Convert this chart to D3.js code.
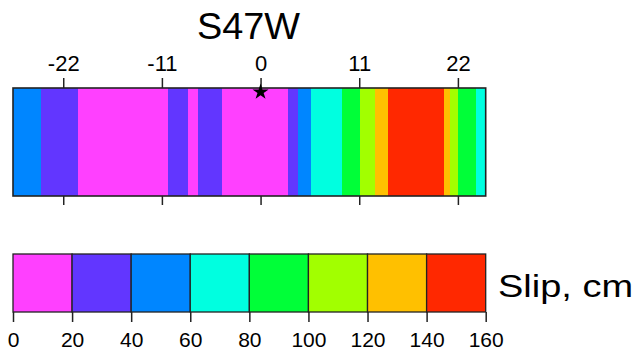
<!DOCTYPE html>
<html>
<head>
<meta charset="utf-8">
<script src="https://cdn.jsdelivr.net/npm/d3@7"></script>
<style>
  html, body { margin: 0; padding: 0; background: #fff; }
  svg { display: block; }
  text { font-family: "Liberation Sans", Arial, Helvetica, sans-serif; fill: #000; }
</style>
</head>
<body>
<svg id="chart" width="639" height="354"></svg>
<script>
// ---- data ----
const title = "S47W";
const distanceExtent = [-27.6, 25.1];          // along-strike distance, km
const distanceTicks = [-22, -11, 0, 11, 22];
const segStart = [-27.6, -24.5, -20.35, -10.3, -8.13, -6.98, -4.28, 3.04, 4.12, 5.6, 9.05, 11.06, 12.76, 14.21, 20.41, 21.16, 22.05, 24.05];
const segEnd   = [-24.5, -20.35, -10.3, -8.13, -6.98, -4.28, 3.04, 4.12, 5.6, 9.05, 11.06, 12.76, 14.21, 20.41, 21.16, 22.05, 24.05, 25.1];
const segSlip  = [50, 30, 10, 30, 10, 30, 10, 30, 50, 70, 90, 110, 130, 150, 130, 110, 90, 70];
const hypocenter = [0];
const slipBins = [0, 20, 40, 60, 80, 100, 120, 140, 160];
const slipColors = ["#ff40ff", "#6236ff", "#0086ff", "#00ffe0", "#00ff38", "#a2ff00", "#ffc000", "#ff2800"];
const slipLabel = "Slip, cm";

// ---- layout ----
const svg = d3.select("#chart");
const left = 13, right = 485.7;
const barTop = 88, barBottom = 196;
const cbTop = 254, cbBottom = 312;
const hyphen = d => String(d).replace("\u2212", "-");

const x = d3.scaleLinear().domain(distanceExtent).range([left, right]);
const color = d3.scaleThreshold().domain(slipBins.slice(1, -1)).range(slipColors);

const segs = segStart.map((s, i) => ({ s, e: segEnd[i], v: segSlip[i] }));

svg.append("g").selectAll("rect").data(segs).join("rect")
  .attr("x", d => x(d.s)).attr("y", barTop)
  .attr("width", d => x(d.e) - x(d.s)).attr("height", barBottom - barTop)
  .attr("fill", d => color(d.v)).attr("shape-rendering", "crispEdges");

svg.append("rect").attr("x", left).attr("y", barTop)
  .attr("width", right - left).attr("height", barBottom - barTop)
  .attr("fill", "none").attr("stroke", "#222").attr("stroke-width", 1.6);

// top axis
const axTop = svg.append("g").attr("transform", `translate(0,${barTop})`)
  .call(d3.axisTop(x).tickValues(distanceTicks).tickSize(10).tickPadding(7).tickFormat(d => hyphen(d)));
axTop.select(".domain").remove();
axTop.selectAll("line").attr("stroke", "#222").attr("stroke-width", 1.5);
axTop.selectAll("text").style("font-size", "22px").attr("fill", "#000");

// bottom axis (ticks only)
const axBot = svg.append("g").attr("transform", `translate(0,${barBottom})`)
  .call(d3.axisBottom(x).tickValues(distanceTicks).tickSize(9).tickFormat(""));
axBot.select(".domain").remove();
axBot.selectAll("line").attr("stroke", "#222").attr("stroke-width", 1.5);

// hypocenter star
svg.append("g").selectAll("path").data(hypocenter).join("path")
  .attr("d", d3.symbol().type(d3.symbolStar).size(80))
  .attr("transform", d => `translate(${x(d)},${barTop + 4})`)
  .attr("fill", "#000");

// title
svg.append("text").attr("x", 248.5).attr("y", 39).attr("text-anchor", "middle")
  .attr("textLength", 103).attr("lengthAdjust", "spacingAndGlyphs")
  .style("font-size", "36px").text(title);

// colorbar
const cx = d3.scaleLinear().domain([slipBins[0], slipBins[slipBins.length - 1]]).range([left, right]);
const bins = slipColors.map((c, i) => ({ a: slipBins[i], b: slipBins[i + 1], c }));
svg.append("g").selectAll("rect").data(bins).join("rect")
  .attr("x", d => cx(d.a)).attr("y", cbTop)
  .attr("width", d => cx(d.b) - cx(d.a)).attr("height", cbBottom - cbTop)
  .attr("fill", d => d.c).attr("stroke", "#222").attr("stroke-width", 1.3);

const axCb = svg.append("g").attr("transform", `translate(0,${cbBottom})`)
  .call(d3.axisBottom(cx).tickValues(slipBins).tickSize(10).tickPadding(10).tickFormat(d3.format("d")));
axCb.select(".domain").remove();
axCb.selectAll("line").attr("stroke", "#222").attr("stroke-width", 1.5);
axCb.selectAll("text").style("font-size", "21px").attr("fill", "#000");

svg.append("text").attr("x", 498).attr("y", 297)
  .attr("textLength", 135).attr("lengthAdjust", "spacingAndGlyphs")
  .style("font-size", "32px").text(slipLabel);
</script>
</body>
</html>
